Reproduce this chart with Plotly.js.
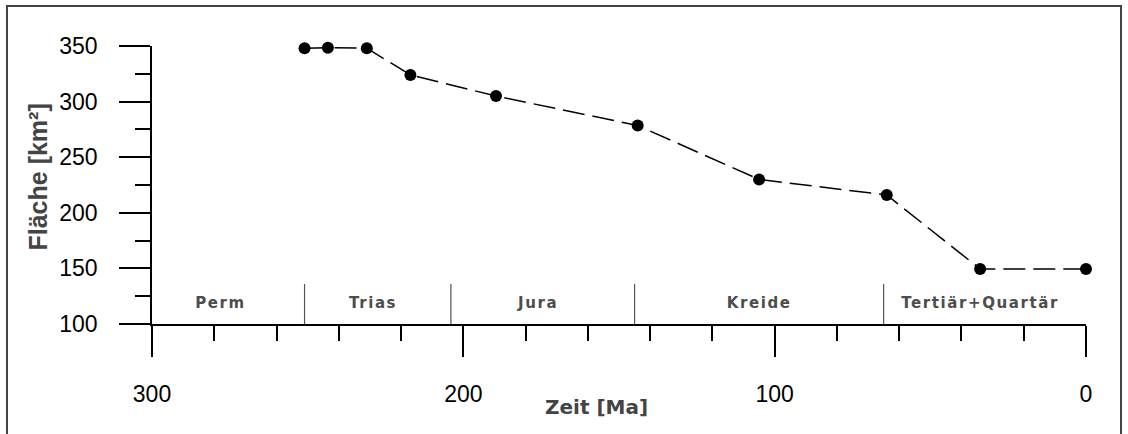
<!DOCTYPE html>
<html>
<head>
<meta charset="utf-8">
<script src="https://cdn.plot.ly/plotly-3.0.1.min.js"></script>
<style>
  html, body { margin: 0; padding: 0; background: #fff; overflow: hidden; }
  #chart { width: 1128px; height: 434px; }
  g.textpoint text { letter-spacing: 1.6px; font-weight: 700 !important; }
</style>
</head>
<body>
<div id="chart"></div>
<script>
// Data (time in Ma, area in km²)
const zeit = [251, 243.5, 231, 217, 189.5, 144, 105, 64, 34, 0];
const flaeche = [348, 348.5, 348, 324, 305, 278.5, 230, 216, 149.5, 149.5];

// Geological periods
const periodNames = ["Perm", "Trias", "Jura", "Kreide", "Tertiär+Quartär"];
const periodLabelX = [278, 229, 176, 105, 34];
const periodLabelY = [118, 118, 118, 118, 118];
const periodBoundaries = [251, 204, 145, 65];
const boundaryTop = 136;

const xTitle = "Zeit [Ma]";
const yTitle = "Fläche [km²]";

const L = 152, R = 42, T = 46, B = 110;
const W = 1128, H = 434;
const pw = W - L - R, ph = H - T - B;

const traces = [
  {
    x: zeit, y: flaeche,
    type: "scatter", mode: "lines+markers",
    line: { color: "#000", width: 1.5, dash: "22px,8px" },
    marker: { color: "#000", size: 12 },
    cliponaxis: false,
    hoverinfo: "x+y"
  },
  {
    x: periodLabelX, y: periodLabelY, text: periodNames,
    type: "scatter", mode: "text",
    textposition: "middle center",
    textfont: { family: "DejaVu Sans", size: 15, color: "#4d4d4d", weight: "bold" },
    cliponaxis: false,
    hoverinfo: "skip"
  }
];

const shapes = periodBoundaries.map(b => ({
  type: "line", xref: "x", yref: "y",
  x0: b, x1: b, y0: 100, y1: boundaryTop,
  line: { color: "#555", width: 1.2 }
}));
// outer frame
shapes.push({
  type: "rect", xref: "paper", yref: "paper",
  x0: (7 - L) / pw, x1: (1121 - L) / pw,
  y0: (H - B - 520) / ph, y1: (H - B - 6) / ph,
  line: { color: "#444", width: 2 }, fillcolor: "rgba(0,0,0,0)"
});

const tickFont = { family: "Liberation Sans, Arial, sans-serif", size: 23, color: "#000" };

const layout = {
  width: W, height: H,
  margin: { l: L, r: R, t: T, b: B, pad: 0 },
  paper_bgcolor: "#fff", plot_bgcolor: "#fff",
  showlegend: false,
  xaxis: {
    range: [300, 0], autorange: false,
    tickmode: "linear", tick0: 0, dtick: 100,
    ticks: "outside", ticklen: 31, tickwidth: 1.5, tickcolor: "#000",
    minor: { dtick: 20, tick0: 0, ticks: "outside", ticklen: 15, tickwidth: 1.5, tickcolor: "#000", showgrid: false },
    showline: true, linecolor: "#000", linewidth: 1.5,
    showgrid: false, zeroline: false,
    tickfont: tickFont, ticklabelstandoff: 18
  },
  yaxis: {
    range: [100, 350], autorange: false,
    tickmode: "linear", tick0: 100, dtick: 50,
    ticks: "outside", ticklen: 31, tickwidth: 1.5, tickcolor: "#000",
    minor: { dtick: 25, tick0: 100, ticks: "outside", ticklen: 15, tickwidth: 1.5, tickcolor: "#000", showgrid: false },
    showline: true, linecolor: "#000", linewidth: 1.5,
    showgrid: false, zeroline: false,
    tickfont: tickFont, ticklabelstandoff: 17
  },
  shapes: shapes,
  annotations: [
    {
      text: xTitle, xref: "paper", yref: "paper",
      x: (596.5 - L) / pw, y: (H - B - 407) / ph,
      xanchor: "center", yanchor: "middle", showarrow: false,
      font: { family: "DejaVu Sans", size: 20, color: "#444", weight: "bold" }
    },
    {
      text: yTitle, xref: "paper", yref: "paper",
      x: (38 - L) / pw, y: (H - B - 177.5) / ph,
      xanchor: "center", yanchor: "middle", showarrow: false, textangle: -90,
      font: { family: "Liberation Sans, Arial, sans-serif", size: 25, color: "#444", weight: "bold" }
    }
  ]
};

Plotly.newPlot("chart", traces, layout, { displayModeBar: false, staticPlot: false });
</script>
</body>
</html>
